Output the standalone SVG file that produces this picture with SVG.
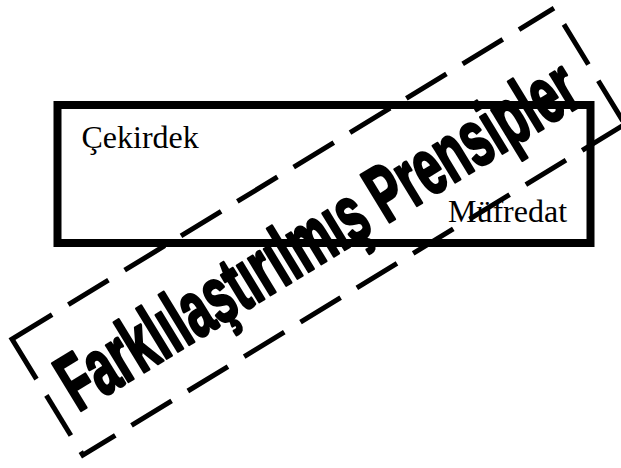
<svg xmlns="http://www.w3.org/2000/svg" width="621" height="468" viewBox="0 0 621 468">
<style>
.box{fill:#fff;stroke:#000;stroke-width:8}
.lbl{font-family:"Liberation Serif","Times New Roman",serif;font-size:32px;fill:#000}
.dash{fill:none;stroke:#000;stroke-width:5;stroke-dasharray:47 19}
.solid{fill:none;stroke:#000;stroke-width:5;stroke-linejoin:miter}
.banner{font-family:"Liberation Sans",Arial,sans-serif;font-weight:bold;font-size:80px;fill:#000;stroke:#000;stroke-width:3;stroke-linejoin:round}
</style>
<g id="core-curriculum">
<rect class="box" x="57.5" y="105" width="533" height="138"/>
<text class="lbl" x="81.5" y="148">Çekirdek</text>
<text class="lbl" x="448" y="222">Müfredat</text>
</g>
<g id="differentiated-principles" transform="translate(12,339) rotate(-31.4)">
<path class="solid" d="M47,0 H0 V47"/>
<path class="dash" d="M66,0 H635"/>
<path class="dash" d="M0,66 V132"/>
<path class="solid" d="M0,132 V136 H38"/>
<path class="dash" d="M57,136 H640"/>
<path class="dash" d="M635,19 V136"/>
<text class="banner" x="18" y="97" textLength="594" lengthAdjust="spacingAndGlyphs">Farklılaştırılmış Prensipler</text>
</g>
</svg>
